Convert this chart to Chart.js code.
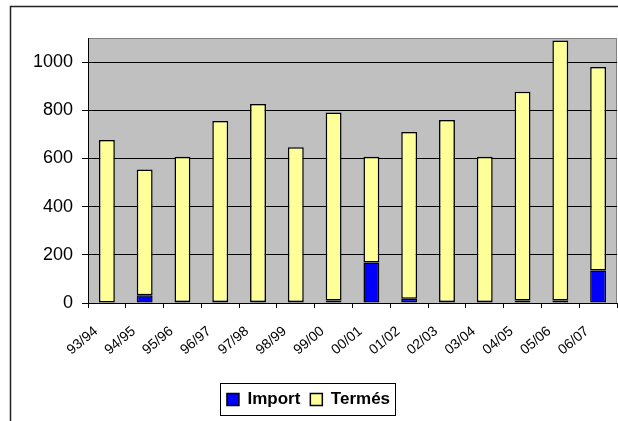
<!DOCTYPE html>
<html>
<head>
<meta charset="utf-8">
<script src="https://cdn.jsdelivr.net/npm/chart.js@4.4.0/dist/chart.umd.min.js"></script>
<style>
  html, body { margin: 0; padding: 0; background: #fff; }
  #wrap { width: 618px; height: 421px; position: relative; }
</style>
</head>
<body>
<div id="wrap"><canvas id="chart" width="618" height="421"></canvas></div>
<script>
// seasons
const seasons = ["93/94", "94/95", "95/96", "96/97", "97/98", "98/99", "99/00",
  "00/01", "01/02", "02/03", "03/04", "04/05", "05/06", "06/07"];
// import (blue, bottom of stack)
const importValues = [0, 32, 4, 4, 4, 4, 10, 168, 18, 4, 4, 10, 10, 135];
// domestic production (yellow, on top)
const termesValues = [677, 522, 603, 751, 822, 642, 781, 439, 692, 756, 603, 867, 1080, 845];
const yTicks = [0, 200, 400, 600, 800, 1000];

const font = "Arial, 'Liberation Sans', sans-serif";

// gray plot area, outer frame and the box round the legend
const framePlugin = {
  id: "frame",
  beforeDraw(chart) {
    const ctx = chart.ctx;
    const a = chart.chartArea;
    ctx.save();
    ctx.fillStyle = "#fff";
    ctx.fillRect(0, 0, chart.width, chart.height);
    ctx.strokeStyle = "#222";
    ctx.lineWidth = 1.5;
    ctx.strokeRect(10.5, 6.5, 800, 600);
    ctx.fillStyle = "#c0c0c0";
    ctx.fillRect(a.left, a.top, a.right - a.left, a.bottom - a.top);
    ctx.strokeStyle = "#808080";
    ctx.lineWidth = 1;
    ctx.strokeRect(a.left + 0.5, a.top + 0.5, a.right - a.left - 1, a.bottom - a.top);
    ctx.restore();
  },
  afterDraw(chart) {
    const boxes = chart.legend.legendHitBoxes;
    if (!boxes || !boxes.length) return;
    let x0 = Infinity, x1 = -Infinity, y0 = Infinity, y1 = -Infinity;
    boxes.forEach((b) => {
      x0 = Math.min(x0, b.left);
      x1 = Math.max(x1, b.left + b.width);
      y0 = Math.min(y0, b.top);
      y1 = Math.max(y1, b.top + b.height);
    });
    const ctx = chart.ctx;
    ctx.save();
    ctx.strokeStyle = "#000";
    ctx.lineWidth = 1;
    ctx.strokeRect(Math.round(x0 - 7) + 0.5, Math.round(y0 - 8) + 0.5, Math.round(x1 - x0 + 12), Math.round(y1 - y0 + 15));
    ctx.restore();
  },
};

const ctx = document.getElementById("chart").getContext("2d");
new Chart(ctx, {
  type: "bar",
  data: {
    labels: seasons,
    datasets: [
      {
        label: "Import",
        data: importValues,
        backgroundColor: "#0000ff",
        borderColor: "#000",
        borderWidth: 1.5,
        borderSkipped: false,
      },
      {
        label: "Termés",
        data: termesValues,
        backgroundColor: "#ffff99",
        borderColor: "#000",
        borderWidth: 1.5,
        borderSkipped: false,
      },
    ],
  },
  options: {
    responsive: false,
    animation: false,
    layout: { padding: { left: 0, top: 38, right: 1, bottom: 3 } },
    datasets: { bar: { barPercentage: 0.42, categoryPercentage: 1 } },
    plugins: {
      tooltip: { enabled: false },
      legend: {
        position: "bottom",
        labels: {
          color: "#000",
          font: { family: font, size: 17, weight: "bold" },
          boxWidth: 12,
          boxHeight: 12,
          padding: 10,
          useBorderRadius: false,
        },
      },
    },
    scales: {
      x: {
        stacked: true,
        border: { color: "#000", width: 1 },
        grid: {
          offset: true,
          drawOnChartArea: false,
          drawTicks: true,
          tickLength: 5,
          color: "#000",
        },
        ticks: {
          color: "#000",
          font: { family: font, size: 14 },
          minRotation: 40,
          maxRotation: 40,
          autoSkip: false,
          padding: 15,
          labelOffset: -11,
        },
        afterFit(scale) {
          scale.height = 78;
          scale.paddingLeft = 0;
          scale.paddingRight = 0;
        },
      },
      y: {
        stacked: true,
        min: 0,
        max: 1100,
        border: { color: "#000", width: 1 },
        grid: {
          color: (c) => (yTicks.includes(c.tick.value) ? "#000" : "rgba(0,0,0,0)"),
          tickLength: 6,
        },
        ticks: {
          stepSize: 200,
          color: "#000",
          font: { family: font, size: 18 },
          padding: 9,
          callback: (v) => (yTicks.includes(v) ? v : ""),
        },
        afterFit(scale) { scale.width = 88; },
      },
    },
  },
  plugins: [framePlugin],
});
</script>
</body>
</html>
